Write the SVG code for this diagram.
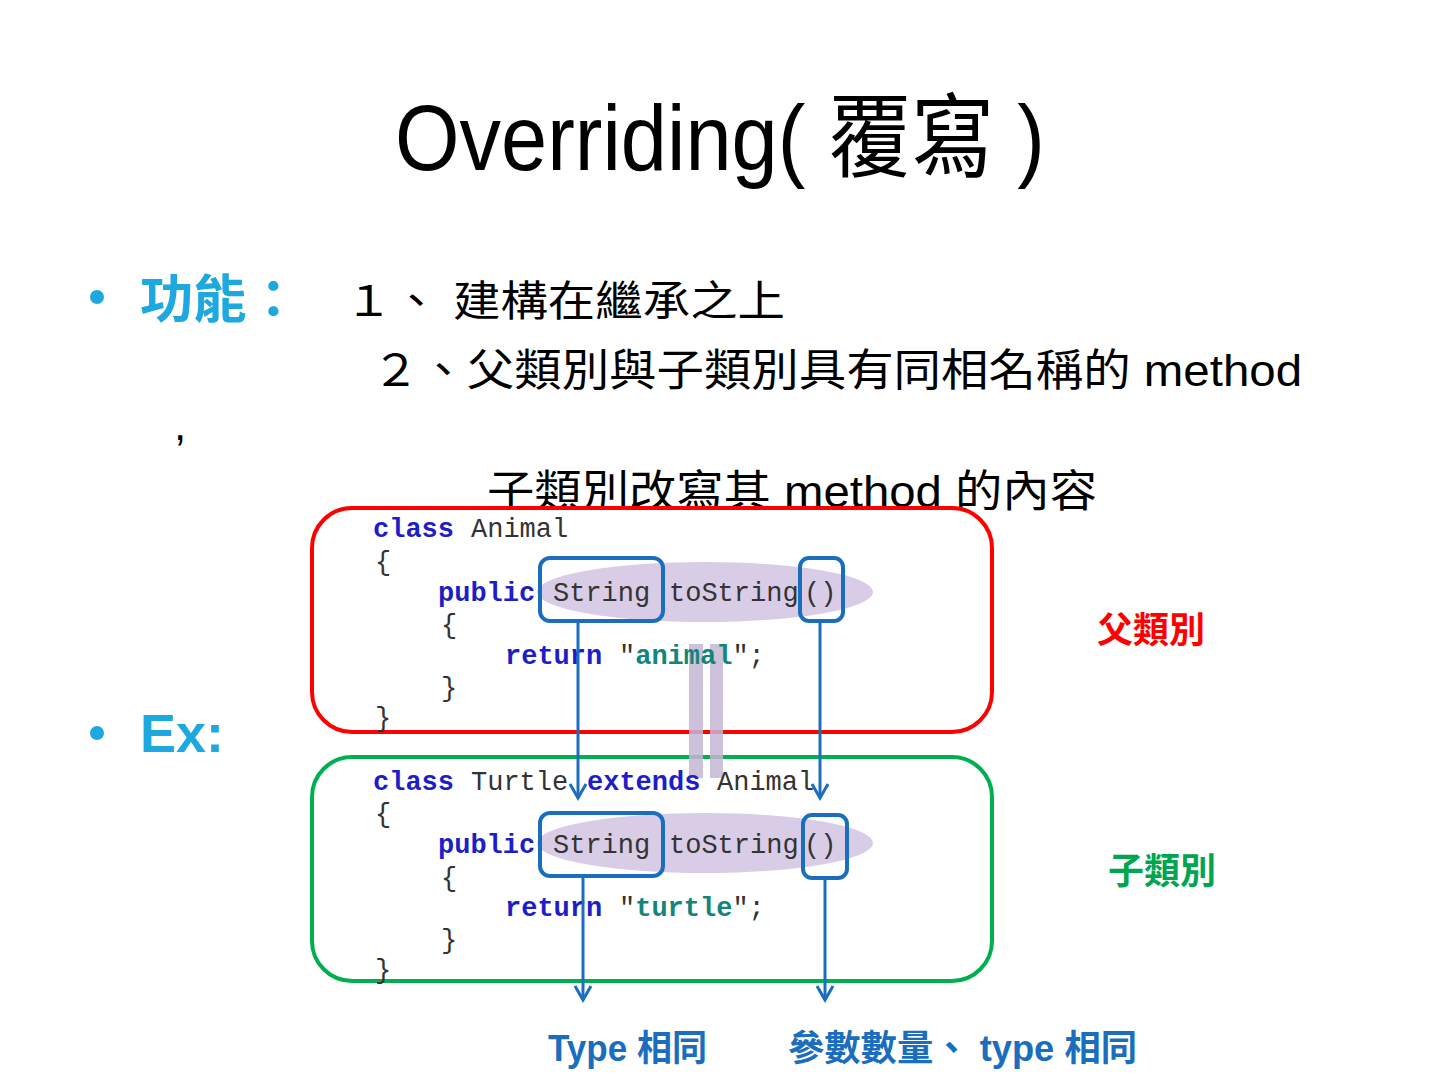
<svg xmlns="http://www.w3.org/2000/svg" width="1440" height="1080" viewBox="0 0 1440 1080">
<style>
.sans{font-family:"Liberation Sans","Noto Sans CJK TC",sans-serif;}
.cjk{font-family:"Liberation Sans","Noto Sans CJK TC",sans-serif;}
.cyan{fill:#1EA8E0;font-weight:bold;}
.code{font-family:"Liberation Mono","DejaVu Sans Mono",monospace;font-size:27px;fill:#333333;}
.kw{fill:#1E1EC8;font-weight:bold;}
.str{fill:#13857A;font-weight:bold;}
.hl{fill:#D9CCE6;}
.sel{fill:none;stroke:#1A6EBD;stroke-width:4;}
.conn{fill:none;stroke:#1A6EBD;stroke-width:3;marker-end:url(#chev);}
.bar{fill:#C4B6D6;opacity:0.85;}
.lbl{font-family:"Liberation Sans","Noto Sans CJK TC",sans-serif;font-weight:bold;font-size:36px;}
</style>
<defs>
<marker id="chev" viewBox="-16 -10 20 20" refX="0" refY="0" markerWidth="20" markerHeight="20" markerUnits="userSpaceOnUse" orient="auto">
<path d="M-14,-8 L0,0 L-14,8" fill="none" stroke="#1A6EBD" stroke-width="3"/>
</marker>
</defs>
<rect width="1440" height="1080" fill="#FFFFFF"/>

<g id="title">
<text class="sans" x="395" y="170" font-size="92" textLength="650" lengthAdjust="spacingAndGlyphs" fill="#000">Overriding( 覆寫 )</text>
</g>

<g id="bullet-function">
<circle cx="97" cy="297" r="7" fill="#1EA8E0"/>
<text class="cjk cyan" x="140" y="318" font-size="52" textLength="160" lengthAdjust="spacingAndGlyphs">功能：</text>
<text class="cjk" x="345" y="316" font-size="42" textLength="440" lengthAdjust="spacingAndGlyphs" fill="#000">１、 建構在繼承之上</text>
<text class="cjk" x="372" y="386" font-size="44" textLength="930" lengthAdjust="spacingAndGlyphs" fill="#000">２、父類別與子類別具有同相名稱的 method</text>
<text class="cjk" x="174" y="440" font-size="44" fill="#000">,</text>
<text class="cjk" x="487" y="507" font-size="44" textLength="610" lengthAdjust="spacingAndGlyphs" fill="#000">子類別改寫其 method 的內容</text>
</g>

<g id="bullet-ex">
<circle cx="97" cy="733" r="7" fill="#1EA8E0"/>
<text class="sans cyan" x="140" y="752" font-size="54">Ex:</text>
</g>

<g id="parent-class">
<rect x="312" y="508" width="680" height="224" rx="40" fill="#FFFFFF" stroke="#FF0000" stroke-width="4"/>
<ellipse class="hl" cx="705" cy="592" rx="168" ry="30"/>
</g>

<g id="child-class">
<rect x="312" y="757" width="680" height="224" rx="40" fill="#FFFFFF" stroke="#00B050" stroke-width="4"/>
<ellipse class="hl" cx="705" cy="843" rx="168" ry="30"/>
</g>

<g id="equals-sign">
<rect class="bar" x="689" y="644" width="14" height="134"/>
<rect class="bar" x="710" y="644" width="13" height="134"/>
</g>

<g id="parent-code" class="code">
<text x="373" y="537"><tspan class="kw">class</tspan><tspan x="471">Animal</tspan></text>
<text x="375" y="570">{</text>
<text x="438" y="601"><tspan class="kw">public</tspan><tspan x="553">String</tspan><tspan x="669">toString</tspan><tspan x="804">()</tspan></text>
<text x="441" y="633">{</text>
<text x="505" y="664"><tspan class="kw">return</tspan><tspan x="619">"</tspan><tspan class="str">animal</tspan><tspan>";</tspan></text>
<text x="441" y="696">}</text>
<text x="375" y="726">}</text>
</g>

<g id="child-code" class="code">
<text x="373" y="790"><tspan class="kw">class</tspan><tspan x="471">Turtle</tspan><tspan class="kw" x="587">extends</tspan><tspan x="717">Animal</tspan></text>
<text x="375" y="822">{</text>
<text x="438" y="853"><tspan class="kw">public</tspan><tspan x="553">String</tspan><tspan x="669">toString</tspan><tspan x="804">()</tspan></text>
<text x="441" y="886">{</text>
<text x="505" y="916"><tspan class="kw">return</tspan><tspan x="619">"</tspan><tspan class="str">turtle</tspan><tspan>";</tspan></text>
<text x="441" y="948">}</text>
<text x="375" y="978">}</text>
</g>

<g id="parent-selections">
<rect class="sel" x="540" y="558" width="123" height="63" rx="10"/>
<rect class="sel" x="800" y="558" width="43" height="63" rx="9"/>
</g>

<g id="child-selections">
<rect class="sel" x="540" y="813" width="123" height="63" rx="10"/>
<rect class="sel" x="803" y="815" width="44" height="63" rx="9"/>
</g>

<g id="connectors">
<line class="conn" x1="578" y1="621" x2="578" y2="798"/>
<line class="conn" x1="820" y1="621" x2="820" y2="798"/>
<line class="conn" x1="583" y1="876" x2="583" y2="1000"/>
<line class="conn" x1="825" y1="878" x2="825" y2="1000"/>
</g>

<g id="label-parent">
<text class="lbl" x="1097" y="643" fill="#FF0000">父類別</text>
</g>
<g id="label-child">
<text class="lbl" x="1108" y="884" fill="#00A550">子類別</text>
</g>
<g id="label-type">
<text class="lbl" x="548" y="1061" fill="#1A6EBD" textLength="159" lengthAdjust="spacingAndGlyphs">Type 相同</text>
</g>
<g id="label-params">
<text class="lbl" x="788" y="1061" fill="#1A6EBD" textLength="349" lengthAdjust="spacingAndGlyphs">參數數量、 type 相同</text>
</g>
</svg>
